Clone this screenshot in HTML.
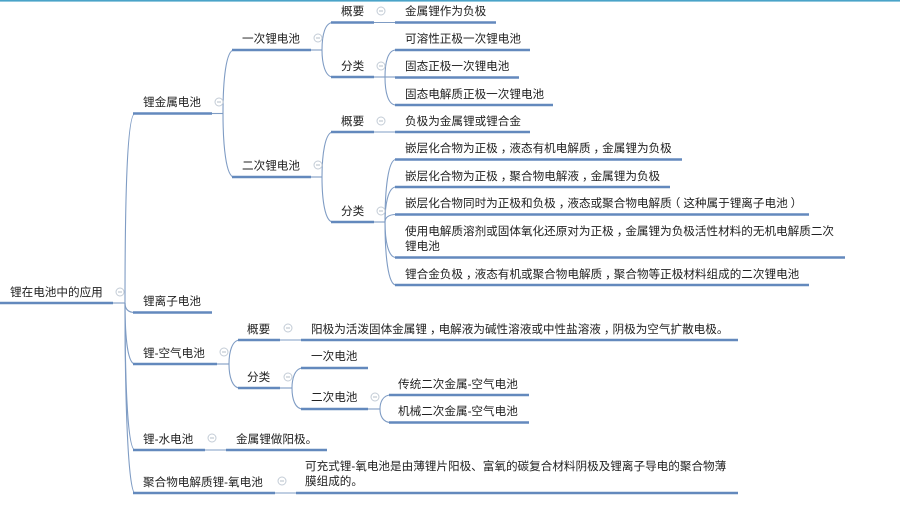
<!DOCTYPE html>
<html><head><meta charset="utf-8"><style>
html,body{margin:0;padding:0;background:#fff}
svg{display:block}
text{font-family:"Liberation Sans","Microsoft YaHei","Noto Sans CJK SC",sans-serif;font-size:11.6px;fill:#222}
.u{stroke:#6389bd;stroke-width:2.4;fill:none}
.c{stroke:#7f9cc4;stroke-width:1.1;fill:none}
.t{stroke:#c3ccd6;stroke-width:1;fill:#fff}
.m{stroke:#b5bfca;stroke-width:1}
</style></head><body>
<svg width="900" height="506" viewBox="0 0 900 506" xmlns="http://www.w3.org/2000/svg">
<rect x="0" y="0" width="900" height="1.6" fill="#4aa3c8"/>
<g class="c">
<path d="M113 303H125"/>
<path d="M125 303C125 200 127 113.500 135 113.500"/>
<path d="M125 303C125 308 127 312.500 135 312.500"/>
<path d="M125 303C125 340 128 364 135 364"/>
<path d="M125 303C125 390 128 450 135 450"/>
<path d="M125 303C125 420 129 493 135 493"/>
<path d="M212 113.500H223"/>
<path d="M223 113.500C223 80 226 50 234 50"/>
<path d="M223 113.500C223 145 226 177 234 177"/>
<path d="M311 50H322"/>
<path d="M322 50C322 35 325 22.500 333 22.500"/>
<path d="M322 50C322 63 325 77 333 77"/>
<path d="M311 177H322"/>
<path d="M322 177C322 155 325 132 333 132"/>
<path d="M322 177C322 200 325 222 333 222"/>
<path d="M374 22.500H395"/>
<path d="M374 132H395"/>
<path d="M374 77H385"/>
<path d="M385 77C385 62 388 50 396 50"/>
<path d="M385 77H396"/>
<path d="M385 77C385 92 388 105 396 105"/>
<path d="M374 222H385"/>
<path d="M385 222C385 190 388 159.500 396 159.500"/>
<path d="M385 222C385 205 388 187 396 187"/>
<path d="M385 222C385 218 388 214.500 396 214.500"/>
<path d="M385 222C385 240 388 257.500 396 257.500"/>
<path d="M385 222C385 255 388 285 396 285"/>
<path d="M217 364H229"/>
<path d="M229 364C229 352 232 340 240 340"/>
<path d="M229 364C229 376 232 388 240 388"/>
<path d="M280 340H301"/>
<path d="M280 388H292"/>
<path d="M292 388C292 378 295 368 303 368"/>
<path d="M292 388C292 399 295 409 303 409"/>
<path d="M368 409H380"/>
<path d="M380 409C380 402 383 395 391 395"/>
<path d="M380 409C380 416 383 422.500 391 422.500"/>
<path d="M205 450H226"/>
<path d="M275 493H296"/>
</g>
<g class="u">
<path d="M0 303H113"/>
<path d="M133 113.500H212"/><path d="M133 312.500H212"/><path d="M133 364H217"/><path d="M133 450H205"/><path d="M133 493H275"/>
<path d="M232 50H311"/><path d="M232 177H311"/>
<path d="M331 22.500H374"/><path d="M331 77H374"/><path d="M331 132H374"/><path d="M331 222H374"/>
<path d="M395 22.500H496"/><path d="M395 50H530"/><path d="M395 77.500H519"/><path d="M395 105H553"/><path d="M395 132H530"/>
<path d="M395 159.500H682"/><path d="M395 187H670"/><path d="M395 214.500H809"/><path d="M395 257.500H845"/><path d="M395 285H809"/>
<path d="M238 340H280"/><path d="M238 388H280"/>
<path d="M301 340H738"/><path d="M301 368H368"/><path d="M301 409H368"/>
<path d="M389 395H529"/><path d="M389 422.500H529"/>
<path d="M226 450H327"/><path d="M296 493H738"/>
</g>
<g>
<circle class="t" cx="120" cy="292" r="4"/><path class="m" d="M118 292H122"/>
<circle class="t" cx="219" cy="102" r="4"/><path class="m" d="M217 102H221"/>
<circle class="t" cx="318" cy="38" r="4"/><path class="m" d="M316 38H320"/>
<circle class="t" cx="318" cy="165" r="4"/><path class="m" d="M316 165H320"/>
<circle class="t" cx="381" cy="11" r="4"/><path class="m" d="M379 11H383"/>
<circle class="t" cx="381" cy="66" r="4"/><path class="m" d="M379 66H383"/>
<circle class="t" cx="381" cy="121" r="4"/><path class="m" d="M379 121H383"/>
<circle class="t" cx="381" cy="211" r="4"/><path class="m" d="M379 211H383"/>
<circle class="t" cx="224" cy="352" r="4"/><path class="m" d="M222 352H226"/>
<circle class="t" cx="288" cy="328" r="4"/><path class="m" d="M286 328H290"/>
<circle class="t" cx="288" cy="377" r="4"/><path class="m" d="M286 377H290"/>
<circle class="t" cx="375" cy="397" r="4"/><path class="m" d="M373 397H377"/>
<circle class="t" cx="212" cy="438" r="4"/><path class="m" d="M210 438H214"/>
<circle class="t" cx="282" cy="481" r="4"/><path class="m" d="M280 481H284"/>
</g>
<g>
<text x="10" y="296">锂在电池中的应用</text>
<text x="143" y="106">锂金属电池</text>
<text x="242" y="42.500">一次锂电池</text>
<text x="242" y="169.500">二次锂电池</text>
<text x="341" y="15">概要</text>
<text x="341" y="70">分类</text>
<text x="341" y="125">概要</text>
<text x="341" y="215">分类</text>
<text x="405" y="15">金属锂作为负极</text>
<text x="405" y="42.500">可溶性正极一次锂电池</text>
<text x="405" y="70">固态正极一次锂电池</text>
<text x="405" y="98">固态电解质正极一次锂电池</text>
<text x="405" y="125">负极为金属锂或锂合金</text>
<text x="405" y="152">嵌层化合物为正极<tspan dx="3">，</tspan><tspan dx="-3">液态有机电解质</tspan><tspan dx="3">，</tspan><tspan dx="-3">金属锂为负极</tspan></text>
<text x="405" y="180">嵌层化合物为正极<tspan dx="3">，</tspan><tspan dx="-3">聚合物电解液</tspan><tspan dx="3">，</tspan><tspan dx="-3">金属锂为负极</tspan></text>
<text x="405" y="207">嵌层化合物同时为正极和负极<tspan dx="3">，</tspan><tspan dx="-3">液态或聚合物电解质</tspan><tspan dx="-3">（</tspan><tspan dx="3">这种属于锂离子电池</tspan><tspan dx="3">）</tspan></text>
<text x="405" y="235">使用电解质溶剂或固体氧化还原对为正极<tspan dx="3">，</tspan><tspan dx="-3">金属锂为负极活性材料的无机电解质二次</tspan></text>
<text x="405" y="250">锂电池</text>
<text x="405" y="278">锂合金负极<tspan dx="3">，</tspan><tspan dx="-3">液态有机或聚合物电解质</tspan><tspan dx="3">，</tspan><tspan dx="-3">聚合物等正极材料组成的二次锂电池</tspan></text>
<text x="143" y="305">锂离子电池</text>
<text x="143" y="357">锂-空气电池</text>
<text x="247" y="333">概要</text>
<text x="247" y="381">分类</text>
<text x="311" y="333">阳极为活泼固体金属锂<tspan dx="3">，</tspan><tspan dx="-3">电解液为碱性溶液或中性盐溶液</tspan><tspan dx="3">，</tspan><tspan dx="-3">阴极为空气扩散电极。</tspan></text>
<text x="311" y="360">一次电池</text>
<text x="311" y="401">二次电池</text>
<text x="398" y="388">传统二次金属-空气电池</text>
<text x="398" y="415">机械二次金属-空气电池</text>
<text x="143" y="443">锂-水电池</text>
<text x="236" y="443">金属锂做阳极。</text>
<text x="143" y="486">聚合物电解质锂-氧电池</text>
<text x="305" y="470">可充式锂-氧电池是由薄锂片阳极、富氧的碳复合材料阴极及锂离子导电的聚合物薄</text>
<text x="305" y="485">膜组成的。</text>
</g>
</svg>
</body></html>
